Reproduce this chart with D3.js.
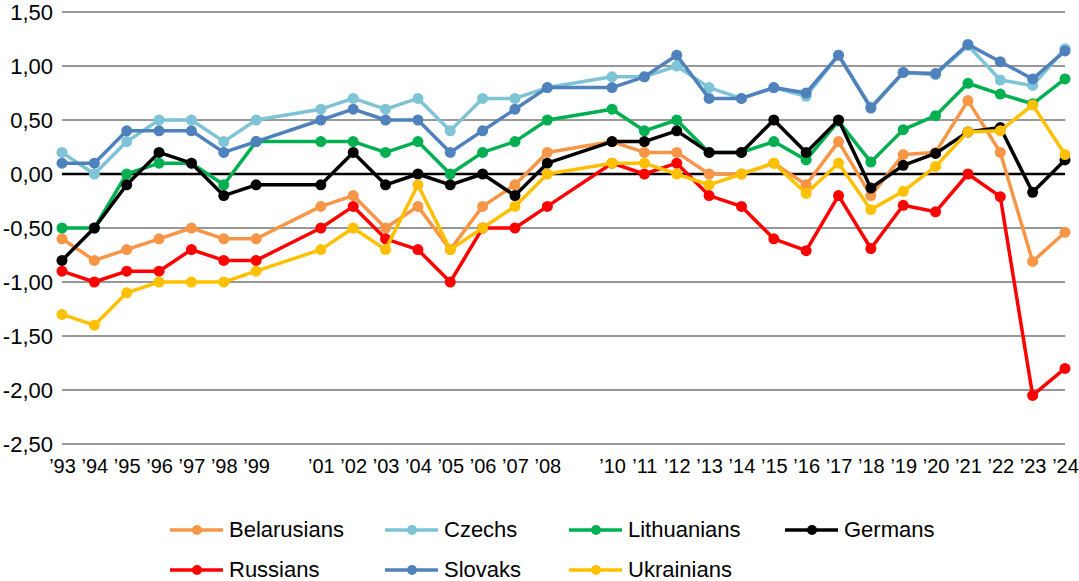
<!DOCTYPE html>
<html>
<head>
<meta charset="utf-8">
<script src="https://cdn.jsdelivr.net/npm/d3@7"></script>
<style>
  html, body { margin: 0; padding: 0; background: #fff; }
  svg { display: block; font-family: "Liberation Sans", Arial, sans-serif; }
</style>
</head>
<body>
<svg id="chart" width="1079" height="581"></svg>
<script>
// ---- data ----
const years = [1993,1994,1995,1996,1997,1998,1999,2001,2002,2003,2004,2005,2006,2007,2008,
               2010,2011,2012,2013,2014,2015,2016,2017,2018,2019,2020,2021,2022,2023,2024];
const belarusians = [-0.6,-0.8,-0.7,-0.6,-0.5,-0.6,-0.6,-0.3,-0.2,-0.5,-0.3,-0.7,-0.3,-0.1,0.2,
                     0.3,0.2,0.2,0,0,0.1,-0.1,0.3,-0.2,0.18,0.2,0.68,0.2,-0.81,-0.54];
const czechs = [0.2,0,0.3,0.5,0.5,0.3,0.5,0.6,0.7,0.6,0.7,0.4,0.7,0.7,0.8,
                0.9,0.9,1.0,0.8,0.7,0.8,0.72,1.1,0.62,0.94,0.92,1.19,0.87,0.82,1.16];
const lithuanians = [-0.5,-0.5,0,0.1,0.1,-0.1,0.3,0.3,0.3,0.2,0.3,0,0.2,0.3,0.5,
                     0.6,0.4,0.5,0.2,0.2,0.3,0.13,0.49,0.11,0.41,0.54,0.84,0.74,0.65,0.88];
const germans = [-0.8,-0.5,-0.1,0.2,0.1,-0.2,-0.1,-0.1,0.2,-0.1,0,-0.1,0,-0.2,0.1,
                 0.3,0.3,0.4,0.2,0.2,0.5,0.2,0.5,-0.13,0.08,0.19,0.39,0.43,-0.17,0.13];
const russians = [-0.9,-1.0,-0.9,-0.9,-0.7,-0.8,-0.8,-0.5,-0.3,-0.6,-0.7,-1.0,-0.5,-0.5,-0.3,
                  0.1,0,0.1,-0.2,-0.3,-0.6,-0.71,-0.2,-0.69,-0.29,-0.35,0,-0.21,-2.05,-1.8];
const slovaks = [0.1,0.1,0.4,0.4,0.4,0.2,0.3,0.5,0.6,0.5,0.5,0.2,0.4,0.6,0.8,
                 0.8,0.9,1.1,0.7,0.7,0.8,0.75,1.1,0.61,0.94,0.93,1.2,1.04,0.88,1.14];
const ukrainians = [-1.3,-1.4,-1.1,-1.0,-1.0,-1.0,-0.9,-0.7,-0.5,-0.7,-0.1,-0.7,-0.5,-0.3,0,
                    0.1,0.1,0,-0.1,0,0.1,-0.18,0.1,-0.33,-0.16,0.07,0.39,0.4,0.64,0.18];
const seriesNames = ["Belarusians","Czechs","Lithuanians","Germans","Russians","Slovaks","Ukrainians"];
const seriesColors = ["#F79646","#7EC3D6","#00B050","#000000","#FF0000","#4F81BD","#FFC000"];
const yTicks = [1.5,1.0,0.5,0,-0.5,-1.0,-1.5,-2.0,-2.5];
const xTickYears = years;

const seriesValues = [belarusians, czechs, lithuanians, germans, russians, slovaks, ukrainians];
const series = seriesNames.map((n,i) => ({name:n, color:seriesColors[i],
  values: years.map((y,j) => ({year:y, v:seriesValues[i][j]}))}));

// ---- layout ----
const svg = d3.select("#chart");
const x = d3.scaleLinear().domain([1993, 2024]).range([62, 1065]);
const y = d3.scaleLinear().domain([-2.5, 1.5]).range([444, 12]);
const fmt = v => d3.format(".2f")(v).replace("−","-").replace(".", ",");

// gridlines
svg.append("g").selectAll("line").data(yTicks.filter(t => t !== 0)).join("line")
  .attr("x1", 62).attr("x2", 1065)
  .attr("y1", d => y(d)).attr("y2", d => y(d))
  .attr("stroke", "#333").attr("stroke-width", 1.2);

// y labels
svg.append("g").selectAll("text").data(yTicks).join("text")
  .attr("x", 53).attr("y", d => y(d)).attr("dy", "0.36em")
  .attr("text-anchor", "end").attr("font-size", 22).attr("fill", "#000")
  .text(fmt);

// x axis labels
const xAxis = d3.axisBottom(x).tickValues(xTickYears)
  .tickFormat(d => "\u2019" + String(d).slice(2)).tickSize(0).tickPadding(0);
const gx = svg.append("g").attr("transform", "translate(0,466)").call(xAxis);
gx.select(".domain").remove();
gx.selectAll("text").attr("font-size", 20).attr("fill", "#000")
  .attr("font-family", "'Liberation Sans', Arial, sans-serif").attr("dy", "0.36em").attr("y", 0);

// zero line
svg.append("line").attr("x1", 62).attr("x2", 1065)
  .attr("y1", y(0)).attr("y2", y(0)).attr("stroke", "#000").attr("stroke-width", 2.5);

// series
const line = d3.line().x(d => x(d.year)).y(d => y(d.v));
const gs = svg.append("g").selectAll("g").data(series).join("g");
gs.append("path").attr("d", d => line(d.values)).attr("fill", "none")
  .attr("stroke", d => d.color).attr("stroke-width", 3.5).attr("stroke-linejoin", "round");
gs.selectAll("circle").data(d => d.values.map(p => ({...p, color: d.color}))).join("circle")
  .attr("cx", d => x(d.year)).attr("cy", d => y(d.v)).attr("r", 5.5)
  .attr("fill", d => d.color);

// legend
const legendPos = [[170,530],[385,530],[569,530],[785,530],[170,570],[385,570],[569,570]];
const lg = svg.append("g").selectAll("g").data(series).join("g")
  .attr("transform", (d,i) => `translate(${legendPos[i][0]},${legendPos[i][1]})`);
lg.append("line").attr("x1", 0).attr("x2", 53).attr("y1", 0).attr("y2", 0)
  .attr("stroke", d => d.color).attr("stroke-width", 3.5);
lg.append("circle").attr("cx", 27).attr("cy", 0).attr("r", 5).attr("fill", d => d.color);
lg.append("text").attr("x", 59).attr("y", 0).attr("dy", "0.3em")
  .attr("font-size", 22).attr("fill", "#000").text(d => d.name);
</script>
</body>
</html>
